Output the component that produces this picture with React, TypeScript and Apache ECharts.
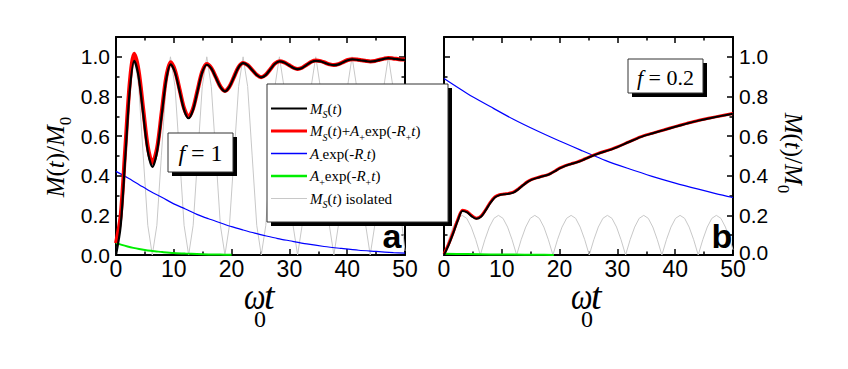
import React, { useEffect, useRef } from "react";
import * as echarts from "echarts";

const SERIF = "Liberation Serif";
const SANS = "Liberation Sans";

// ---- tick labels ----
const xTicks = [0, 10, 20, 30, 40, 50];
const xTickLabels = ["0", "10", "20", "30", "40", "50"];
const yTicks = [0, 0.2, 0.4, 0.6, 0.8, 1.0];
const yTickLabels = ["0.0", "0.2", "0.4", "0.6", "0.8", "1.0"];

// ---- legend names ----
const seriesNames = ["MS", "MS+A+", "A-", "A+", "MSiso"];

// ---- panel a (f = 1) ----
const tMsA = [0, 0.8, 1.6, 2.4, 3.15, 3.9, 4.7, 5.5, 6.3, 7.1, 7.9, 8.7, 9.45, 10.2, 11, 11.8, 12.55, 13.3, 14.1, 14.9, 15.7, 16.5, 17.3, 18.1, 18.85, 19.6, 20.4, 21.2, 22, 22.8, 23.6, 24.4, 25.1, 25.9, 26.7, 27.5, 28.3, 29.1, 29.9, 30.7, 31.4, 32.2, 33, 33.8, 34.6, 35.4, 36.2, 37, 37.7, 38.5, 39.3, 40.1, 40.9, 41.7, 42.5, 43.3, 44, 44.8, 45.6, 46.4, 47.1, 47.9, 48.7, 49.5, 50];
const msA = [0, 0.144, 0.49, 0.836, 0.98,
  0.902, 0.7125, 0.523, 0.445,
  0.521, 0.7035, 0.886, 0.962,
  0.922, 0.826, 0.73, 0.69,
  0.73, 0.825, 0.92, 0.96,
  0.94, 0.893, 0.846, 0.826,
  0.847, 0.897, 0.947, 0.968,
  0.957, 0.932, 0.907, 0.896,
  0.908, 0.9365, 0.965, 0.977,
  0.971, 0.9575, 0.944, 0.938,
  0.944, 0.959, 0.974, 0.98,
  0.977, 0.969, 0.961, 0.958,
  0.962, 0.9725, 0.983, 0.987,
  0.985, 0.9815, 0.978, 0.976,
  0.978, 0.9845, 0.99, 0.993,
  0.991, 0.988, 0.985, 0.985];
const msPlusA = [0.06, 0.196, 0.535, 0.875, 1.015,
  0.932, 0.738, 0.546, 0.465,
  0.538, 0.7185, 0.899, 0.973,
  0.932, 0.835, 0.738, 0.697,
  0.736, 0.83, 0.924, 0.964,
  0.943, 0.896, 0.848, 0.828,
  0.848, 0.898, 0.948, 0.969,
  0.958, 0.933, 0.908, 0.897,
  0.909, 0.9375, 0.966, 0.978,
  0.972, 0.9585, 0.945, 0.939,
  0.945, 0.96, 0.975, 0.981,
  0.978, 0.97, 0.962, 0.959,
  0.963, 0.9735, 0.984, 0.988,
  0.986, 0.9825, 0.979, 0.977,
  0.979, 0.9855, 0.991, 0.994,
  0.992, 0.989, 0.986, 0.986];
const tBlueA = [0, 2, 4, 6, 8, 10, 12, 14, 16, 18, 20, 22, 24, 26, 28, 30, 33, 36, 39, 42, 45, 48, 50];
const blueA = [0.422, 0.39, 0.355, 0.32, 0.29, 0.258, 0.232, 0.205, 0.183, 0.163, 0.143, 0.126, 0.11, 0.096, 0.083, 0.072, 0.056, 0.043, 0.033, 0.024, 0.018, 0.012, 0.009];
const tGreenA = [0, 1, 2, 3, 4, 5, 6, 7, 8, 10, 12, 14, 16, 18, 20];
const greenA = [0.06, 0.051, 0.043, 0.036, 0.03, 0.025, 0.021, 0.018, 0.015, 0.01, 0.007, 0.005, 0.003, 0.002, 0.001];
const tGray = [0, 0.79, 1.57, 2.36, 3.14, 3.93, 4.71, 5.5, 6.28, 7.07, 7.85, 8.64, 9.42, 10.21, 11, 11.78, 12.57, 13.35, 14.14, 14.92, 15.71, 16.49, 17.28, 18.06, 18.85, 19.63, 20.42, 21.21, 21.99, 22.78, 23.56, 24.35, 25.13, 25.92, 26.7, 27.49, 28.27, 29.06, 29.85, 30.63, 31.42, 32.2, 32.99, 33.77, 34.56, 35.34, 36.13, 36.91, 37.7, 38.48, 39.27, 40.06, 40.84, 41.63, 42.41, 43.2, 43.98, 44.77, 45.55, 46.34, 47.12, 47.91, 48.69, 49.48, 50];
const grayA = [0, 0.15, 0.5, 0.85, 1, 0.85, 0.5, 0.15,
  0, 0.15, 0.5, 0.85, 1, 0.85, 0.5, 0.15,
  0, 0.15, 0.5, 0.85, 1, 0.85, 0.5, 0.15,
  0, 0.15, 0.5, 0.85, 1, 0.85, 0.5, 0.15,
  0, 0.15, 0.5, 0.85, 1, 0.85, 0.5, 0.15,
  0, 0.15, 0.5, 0.85, 1, 0.85, 0.5, 0.15,
  0, 0.15, 0.5, 0.85, 1, 0.85, 0.5, 0.15,
  0, 0.15, 0.5, 0.85, 1, 0.85, 0.5, 0.15,
  0.02];

// ---- panel b (f = 0.2) ----
const tMsB = [0, 0.8, 1.6, 2.4, 3.2, 4, 4.8, 5.6, 6.4, 7.2, 8, 8.8, 9.6, 10.4, 11.2, 12, 12.8, 13.6, 14.4, 15.2, 16, 16.8, 17.6, 18.4, 19.2, 20, 21, 22, 23, 24, 25, 26, 27, 28, 29, 30, 32, 34, 36, 38, 40, 42, 44, 46, 48, 50];
const msB = [0, 0.05, 0.11, 0.175, 0.222, 0.215, 0.195, 0.183, 0.193, 0.225, 0.262, 0.29, 0.302, 0.306, 0.309, 0.315, 0.33, 0.35, 0.368, 0.38, 0.388, 0.395, 0.401, 0.41, 0.423, 0.437, 0.45, 0.459, 0.468, 0.479, 0.492, 0.504, 0.515, 0.524, 0.533, 0.544, 0.57, 0.595, 0.613, 0.63, 0.647, 0.663, 0.678, 0.69, 0.702, 0.713];
const msPlusB = [0.006, 0.055, 0.115, 0.18, 0.226, 0.219, 0.199, 0.186, 0.196, 0.228, 0.265, 0.293, 0.304, 0.308, 0.311, 0.317, 0.332, 0.351, 0.369, 0.381, 0.389, 0.396, 0.402, 0.411, 0.424, 0.438, 0.451, 0.46, 0.469, 0.48, 0.493, 0.505, 0.516, 0.525, 0.534, 0.545, 0.571, 0.596, 0.614, 0.631, 0.648, 0.664, 0.679, 0.691, 0.703, 0.714];
const tBlueB = [0, 4, 8, 12, 16, 20, 24, 28, 32, 36, 40, 44, 47, 50];
const blueB = [0.89, 0.815, 0.749, 0.685, 0.628, 0.575, 0.525, 0.476, 0.435, 0.397, 0.363, 0.332, 0.31, 0.29];
const tGreenB = [0, 4, 8, 12, 16, 19];
const greenB = [0.006, 0.0045, 0.003, 0.002, 0.001, 0.0005];
const grayB = [0, 0.077, 0.141, 0.185, 0.2, 0.185, 0.141, 0.077,
  0, 0.077, 0.141, 0.185, 0.2, 0.185, 0.141, 0.077,
  0, 0.077, 0.141, 0.185, 0.2, 0.185, 0.141, 0.077,
  0, 0.077, 0.141, 0.185, 0.2, 0.185, 0.141, 0.077,
  0, 0.077, 0.141, 0.185, 0.2, 0.185, 0.141, 0.077,
  0, 0.077, 0.141, 0.185, 0.2, 0.185, 0.141, 0.077,
  0, 0.077, 0.141, 0.185, 0.2, 0.185, 0.141, 0.077,
  0, 0.077, 0.141, 0.185, 0.2, 0.185, 0.141, 0.077,
  0.026];

// ---- styles ----
const COL = { black: "#000000", red: "#ff0000", blue: "#0000ff", green: "#00ee00", gray: "#c8c8c8" };

const pts = (t: number[], v: number[]) => t.map((x, i) => [x, v[i]]);

function lineSeries(name: string, xi: number, yi: number, t: number[], v: number[], color: string, width: number, z: number, smooth: number | boolean) {
  return {
    type: "line", name, xAxisIndex: xi, yAxisIndex: yi, data: pts(t, v),
    showSymbol: false, symbol: "none", smooth, silent: true, z,
    lineStyle: { color, width }, itemStyle: { color },
  };
}

function xAxis(gridIndex: number, position: string, showLabel: boolean) {
  return {
    type: "value", gridIndex, position, min: 0, max: 50, interval: 10,
    axisLine: { show: true, onZero: false, lineStyle: { color: "#000", width: 2 } },
    axisTick: { show: true, inside: true, length: 6, lineStyle: { color: "#000", width: 1.5 } },
    minorTick: { show: true, splitNumber: 2, length: 3.5, lineStyle: { color: "#000", width: 1.5 } },
    splitLine: { show: false }, minorSplitLine: { show: false },
    axisLabel: {
      show: showLabel, color: "#000", fontFamily: SANS, fontSize: 23, lineHeight: 15, margin: 6,
      formatter: (v: number) => { const i = xTicks.findIndex((x) => Math.abs(x - v) < 1e-9); return i >= 0 ? xTickLabels[i] : ""; },
    },
  };
}

function yAxis(gridIndex: number, position: string, showLabel: boolean, liftZero: boolean) {
  return {
    type: "value", gridIndex, position, min: 0, max: 1.1, interval: 0.2,
    axisLine: { show: true, onZero: false, lineStyle: { color: "#000", width: 2 } },
    axisTick: { show: true, inside: true, length: 6, lineStyle: { color: "#000", width: 1.5 } },
    minorTick: { show: true, splitNumber: 2, length: 3.5, lineStyle: { color: "#000", width: 1.5 } },
    splitLine: { show: false }, minorSplitLine: { show: false },
    axisLabel: {
      show: showLabel, color: "#000", fontFamily: SANS, fontSize: 21, lineHeight: 12, margin: 6, showMaxLabel: false,
      rich: { u: { fontFamily: SANS, fontSize: 21, lineHeight: 12, color: "#000", padding: [0, 0, 6, 0] } },
      formatter: (v: number) => {
        const i = yTicks.findIndex((y) => Math.abs(y - v) < 1e-9);
        if (i < 0) return "";
        return liftZero && i === 0 ? `{u|${yTickLabels[i]}}` : yTickLabels[i];
      },
    },
  };
}

const legRich: any = {
  i: { fontFamily: SERIF, fontStyle: "italic", fontSize: 15, fill: "#000" },
  r: { fontFamily: SERIF, fontSize: 15, fill: "#000" },
  s: { fontFamily: SERIF, fontStyle: "italic", fontSize: 10, fill: "#000", padding: [12, 0, 0, 0] },
  p: { fontFamily: SERIF, fontSize: 10, fill: "#000", padding: [12, 0, 0, 0] },
};
const legendTexts = [
  "{i|M}{s|S}{r|(}{i|t}{r|)}",
  "{i|M}{s|S}{r|(}{i|t}{r|)+}{i|A}{p|+}{r|exp(-}{i|R}{p|+}{i|t}{r|)}",
  "{i|A}{p|-}{r|exp(-}{i|R}{p|-}{i|t}{r|)}",
  "{i|A}{p|+}{r|exp(-}{i|R}{p|+}{i|t}{r|)}",
  "{i|M}{s|S}{r|(}{i|t}{r|) isolated}",
];
const legendColors = [COL.black, COL.red, COL.blue, COL.green, COL.gray];
const legendWidths = [2, 3, 1.5, 2.5, 1];

const titleRich: any = {
  i: { fontFamily: SERIF, fontStyle: "italic", fontSize: 25, fill: "#000" },
  r: { fontFamily: SERIF, fontSize: 25, fill: "#000" },
  s: { fontFamily: SERIF, fontSize: 17, fill: "#000", padding: [20, 0, 0, 0] },
};
const titleText = "{i|M}{r|(}{i|t}{r|)/}{i|M}{s|0}";

const fRich: any = {
  i: { fontFamily: SERIF, fontStyle: "italic", fontSize: 24, fill: "#000" },
  r: { fontFamily: SERIF, fontSize: 24, fill: "#000" },
  i2: { fontFamily: SERIF, fontStyle: "italic", fontSize: 22, fill: "#000" },
  r2: { fontFamily: SERIF, fontSize: 22, fill: "#000" },
};

function shadowBox(x: number, y: number, w: number, h: number, z: number) {
  return [
    { type: "rect", z, shape: { x: x + 4, y: y + 4, width: w, height: h }, style: { fill: "#000" } },
    { type: "rect", z: z + 1, shape: { x, y, width: w, height: h }, style: { fill: "#fff", stroke: "#333", lineWidth: 1 } },
  ];
}

function omegaLabel(dx: number) {
  return [
    { type: "text", z: 60, x: 244 + dx, y: 296, scaleX: 0.8, style: { text: "ω", fontFamily: SERIF, fontStyle: "italic", fontSize: 38, lineHeight: 22, fill: "#000", verticalAlign: "middle", align: "left" } },
    { type: "text", z: 60, x: 264 + dx, y: 296, style: { text: "t", fontFamily: SERIF, fontStyle: "italic", fontSize: 38, lineHeight: 22, fill: "#000", verticalAlign: "middle", align: "left" } },
    { type: "text", z: 60, x: 254 + dx, y: 319, style: { text: "0", fontFamily: SERIF, fontSize: 24, lineHeight: 16, fill: "#000", verticalAlign: "middle", align: "left" } },
  ];
}

function buildOption() {
  const legendY = [108.5, 131, 153.5, 176, 198.5];
  const legendEls: any[] = [...shadowBox(267, 84, 181, 138, 100)];
  legendY.forEach((y, k) => {
    legendEls.push({ type: "line", z: 102, shape: { x1: 271, y1: y, x2: 307, y2: y }, style: { stroke: legendColors[k], lineWidth: legendWidths[k] } });
    legendEls.push({ type: "text", z: 102, x: 310, y, style: { text: legendTexts[k], rich: legRich, align: "left", verticalAlign: "middle" } });
  });

  const graphic: any[] = [
    ...legendEls,
    ...shadowBox(168, 133, 65, 39, 60),
    { type: "text", z: 62, x: 200.5, y: 153, style: { text: "{i|f}{r| = 1}", rich: fRich, align: "center", verticalAlign: "middle" } },
    ...shadowBox(628, 59, 75, 34, 60),
    { type: "text", z: 62, x: 665.5, y: 77, style: { text: "{i2|f}{r2| = 0.2}", rich: fRich, align: "center", verticalAlign: "middle" } },
    { type: "text", z: 62, x: 392, y: 236, style: { text: "a", fontFamily: SANS, fontWeight: "bold", fontSize: 34, fill: "#000", align: "center", verticalAlign: "middle" } },
    { type: "text", z: 62, x: 722, y: 236, style: { text: "b", fontFamily: SANS, fontWeight: "bold", fontSize: 34, fill: "#000", align: "center", verticalAlign: "middle" } },
    { type: "text", z: 62, x: 55, y: 157, rotation: Math.PI / 2, style: { text: titleText, rich: titleRich, align: "center", verticalAlign: "middle" } },
    { type: "text", z: 62, x: 793, y: 153, rotation: -Math.PI / 2, style: { text: titleText, rich: titleRich, align: "center", verticalAlign: "middle" } },
    ...omegaLabel(0),
    ...omegaLabel(327),
  ];

  return {
    animation: false,
    backgroundColor: "#ffffff",
    textStyle: { fontFamily: SANS },
    grid: [
      { left: 116, top: 37, width: 289, height: 218 },
      { left: 444, top: 37, width: 289, height: 218 },
    ],
    xAxis: [xAxis(0, "bottom", true), xAxis(0, "top", false), xAxis(1, "bottom", true), xAxis(1, "top", false)],
    yAxis: [yAxis(0, "left", true, false), yAxis(0, "right", false, false), yAxis(1, "right", true, true), yAxis(1, "left", false, false)],
    series: [
      lineSeries(seriesNames[4], 0, 0, tGray, grayA, COL.gray, 1, 1, false),
      lineSeries(seriesNames[2], 0, 0, tBlueA, blueA, COL.blue, 1.2, 2, 0.3),
      lineSeries(seriesNames[3], 0, 0, tGreenA, greenA, COL.green, 2, 3, 0.3),
      lineSeries(seriesNames[1], 0, 0, tMsA, msPlusA, COL.red, 4, 4, 0.3),
      lineSeries(seriesNames[0], 0, 0, tMsA, msA, COL.black, 2.2, 5, 0.3),
      lineSeries(seriesNames[4], 2, 2, tGray, grayB, COL.gray, 1, 1, false),
      lineSeries(seriesNames[2], 2, 2, tBlueB, blueB, COL.blue, 1.2, 2, 0.3),
      lineSeries(seriesNames[3], 2, 2, tGreenB, greenB, COL.green, 2, 3, 0.3),
      lineSeries(seriesNames[1], 2, 2, tMsB, msPlusB, COL.red, 3, 4, 0.3),
      lineSeries(seriesNames[0], 2, 2, tMsB, msB, COL.black, 2, 5, 0.3),
    ],
    graphic,
  };
}

export default function App() {
  const ref = useRef<HTMLDivElement>(null);
  useEffect(() => {
    if (!ref.current) return;
    const chart = echarts.init(ref.current, null, { renderer: "svg" });
    chart.setOption(buildOption() as any);
    return () => chart.dispose();
  }, []);
  return (
    <div
      ref={ref}
      style={{ position: "fixed", left: 0, top: 0, width: 848, height: 369, background: "#fff" }}
    />
  );
}
